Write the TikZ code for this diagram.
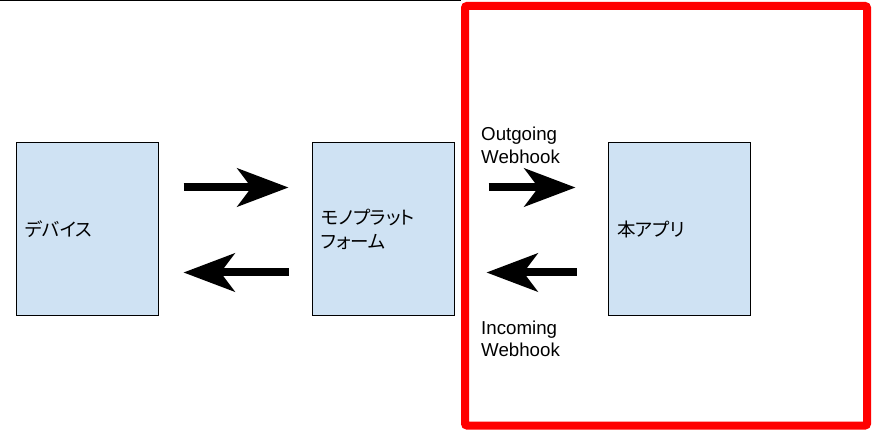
\documentclass[tikz,border=0pt]{standalone}
\usepackage{fontspec}
\setmainfont{Liberation Sans}
\newfontfamily\jpfont[RawFeature=+palt]{Noto Sans CJK JP}
\usetikzlibrary{arrows.meta}
\definecolor{boxblue}{HTML}{CFE2F3}

\begin{document}
\begin{tikzpicture}[x=1pt,y=-1pt,
    box/.style={draw=black, line width=1pt, fill=boxblue, minimum width=142pt, minimum height=173pt,
      text width=124pt, inner xsep=9pt, align=left, font=\jpfont\fontsize{18.5}{24}\selectfont},
    bigarrow/.style={line width=8pt, -{Stealth[length=51pt,width=38pt,inset=14pt]}},
    lbl/.style={inner sep=0pt, align=left, font=\fontsize{18.7}{22.7}\selectfont}]
        \useasboundingbox (0,0) rectangle (876,430);
        \draw[line width=1.5pt] (0,0.5) -- (461,0.5);
        \draw[red, line width=8pt, rounded corners=2pt] (465,6) rectangle (867,425.5);
        \node[box] (dev) at (87,229.5) {デバイス};
        \node[box] (plat) at (383,229.5) {モノプラット\\フォーム};
        \node[box] (app) at (679,229.5) {本アプリ};
        \draw[bigarrow, shorten <=25pt, shorten >=23pt] ([yshift=42pt]dev.east) -- ([yshift=42pt]plat.west);
        \draw[bigarrow, shorten <=23pt, shorten >=25pt] ([yshift=-43pt]plat.west) -- ([yshift=-43pt]dev.east);
        \draw[bigarrow, shorten <=34pt, shorten >=32pt] ([yshift=42pt]plat.east) -- ([yshift=42pt]app.west);
        \draw[bigarrow, shorten <=31pt, shorten >=32pt] ([yshift=-43pt]app.west) -- ([yshift=-43pt]plat.east);
        \node[lbl, anchor=base west] (outlbl) at (481,163.3) {Outgoing\\Webhook};
        \node[lbl, anchor=base west] (inlbl) at (481,357) {Incoming\\Webhook};
\end{tikzpicture}
\end{document}
